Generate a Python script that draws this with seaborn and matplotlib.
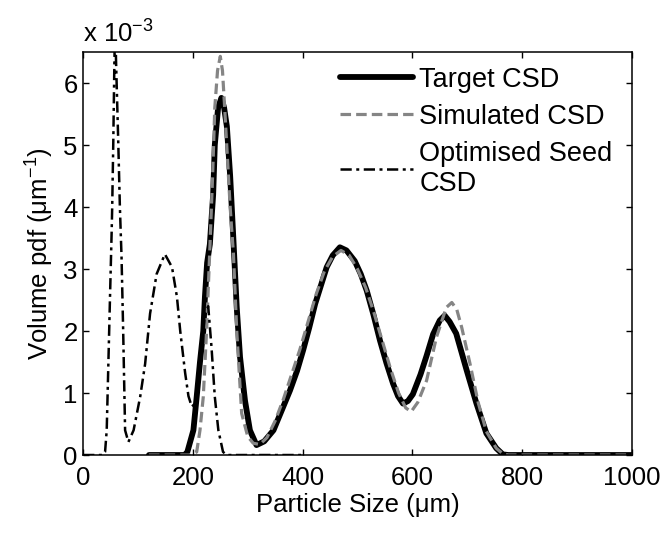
import matplotlib
matplotlib.use("Agg")
import matplotlib.pyplot as plt
import pandas as pd
import seaborn as sns

# Particle size grids (um) and volume pdf values (x 1e-3 per um)
target_size = [120, 185, 190, 201, 207, 213, 219, 222, 226, 231, 237, 240, 246, 252,
               257, 262, 268, 274, 280, 286, 295, 304, 316, 330, 347, 362, 377, 390,
               401, 412, 423, 434, 444, 455, 468, 480, 495, 506, 517, 529, 541, 553,
               565, 574, 583, 592, 601, 615, 626, 638, 650, 659, 668, 680, 690, 699,
               717, 735, 753, 765, 775, 1000]
target_pdf = [0, 0, 0.05, 0.4, 0.94, 1.5, 2.0, 2.55, 3.1, 3.4, 4.2, 5.0, 5.6, 5.76,
              5.6, 5.3, 4.5, 3.46, 2.38, 1.58, 0.88, 0.40, 0.16, 0.22, 0.40, 0.72, 1.04, 1.36,
              1.69, 2.05, 2.44, 2.75, 3.03, 3.22, 3.35, 3.30, 3.13, 2.92, 2.65, 2.27, 1.85, 1.48,
              1.15, 0.95, 0.83, 0.87, 0.98, 1.3, 1.6, 1.95, 2.17, 2.25, 2.15, 1.96, 1.65, 1.37,
              0.83, 0.35, 0.11, 0.01, 0, 0]

sim_size = [120, 195, 207, 213, 219, 225, 231, 236, 240, 245, 250, 254, 258, 263,
            268, 274, 280, 289, 300, 310, 322, 335, 350, 365, 380, 395, 410, 425,
            440, 455, 470, 485, 500, 515, 530, 545, 560, 575, 588, 598, 610, 626,
            644, 662, 672, 681, 690, 705, 720, 735, 753, 765, 775, 1000]
sim_pdf = [0, 0, 0.05, 0.4, 0.94, 2.0, 3.33, 4.5, 5.6, 6.2, 6.43, 6.2, 5.6, 4.8,
           4.0, 3.24, 2.0, 0.67, 0.3, 0.19, 0.17, 0.28, 0.55, 0.9, 1.3, 1.7, 2.15, 2.6,
           2.97, 3.2, 3.3, 3.22, 3.0, 2.7, 2.3, 1.85, 1.4, 1.0, 0.76, 0.70, 0.85, 1.2,
           1.9, 2.38, 2.46, 2.35, 2.06, 1.48, 0.85, 0.38, 0.11, 0.02, 0, 0]

seed_size = [0, 35, 40, 43, 46, 49, 52, 53, 55, 57, 58.5, 60, 64, 67, 70, 73, 76.5,
             82.5, 92, 104, 113, 122, 134, 149, 162, 171, 177, 186, 192, 198, 204,
             213, 222, 228, 234, 240, 246.5, 255, 262, 400]
seed_pdf = [0, 0, 0.05, 0.4, 1.47, 2.55, 3.6, 4.0, 5.06, 6.35, 7.0, 6.35, 5.06, 4.0, 3.2, 2.0, 0.4,
            0.21, 0.4, 0.94, 1.47, 2.28, 2.92, 3.24, 3.03, 2.55, 2.0, 1.32, 0.95, 0.78, 0.83,
            1.47, 2.28, 2.4, 1.74, 0.94, 0.4, 0.05, 0, 0]

series_names = ["Target CSD", "Simulated CSD", "Optimised Seed\nCSD"]
x_ticks = [0, 200, 400, 600, 800, 1000]
y_ticks = [0, 1, 2, 3, 4, 5, 6]

sns.set_style("ticks")
plt.rcParams["font.family"] = ["Liberation Sans", "DejaVu Sans"]
plt.rcParams["mathtext.fontset"] = "custom"
plt.rcParams["mathtext.rm"] = "Liberation Sans"
plt.rcParams["mathtext.it"] = "Liberation Sans:italic"
plt.rcParams["mathtext.bf"] = "Liberation Sans:bold"
for key in ["text.color", "axes.labelcolor", "xtick.color", "ytick.color", "axes.edgecolor"]:
    plt.rcParams[key] = "black"

FS = 18.5

target_df = pd.DataFrame({"size": target_size, "pdf": target_pdf})
sim_df = pd.DataFrame({"size": sim_size, "pdf": sim_pdf})
seed_df = pd.DataFrame({"size": seed_size, "pdf": seed_pdf})

fig = plt.figure(figsize=(6.65, 5.33), dpi=100)
ax = fig.add_axes([0.125, 0.1463, 0.825, 0.7561])

sim_dash = [3.3, 1.6]
seed_dash = [4.5, 1.8, 1.2, 1.8]

sns.lineplot(data=target_df, x="size", y="pdf", ax=ax, sort=False, estimator=None,
             color="black", linewidth=4.2, label=series_names[0])
sns.lineplot(data=sim_df, x="size", y="pdf", ax=ax, sort=False, estimator=None,
             color="#858585", linewidth=2.3, label=series_names[1])
sns.lineplot(data=seed_df, x="size", y="pdf", ax=ax, sort=False, estimator=None,
             color="black", linewidth=1.8, label=series_names[2])
ax.lines[1].set_dashes(sim_dash)
ax.lines[2].set_dashes(seed_dash)

ax.set_xlim(0, 1000)
ax.set_ylim(0, 6.5)
ax.set_xticks(x_ticks)
ax.set_yticks(y_ticks)
ax.tick_params(axis="both", direction="in", length=4, width=1, labelsize=FS,
               top=True, right=True, colors="black")
ax.tick_params(axis="x", pad=8)
ax.tick_params(axis="y", pad=4)
for sp in ax.spines.values():
    sp.set_linewidth(1.1)
    sp.set_color("black")
    sp.set_visible(True)

ax.set_xlabel("Particle Size (\u03bcm)", fontsize=FS, labelpad=2, color="black")
ax.set_ylabel("Volume pdf (\u03bcm$^{-1}$)", fontsize=FS, labelpad=5, color="black")
ax.text(0.0, 1.01, "x 10$^{-3}$", transform=ax.transAxes, fontsize=FS,
        ha="left", va="bottom", color="black")

handles, labels = ax.get_legend_handles_labels()
handles[1].set_dashes(sim_dash)
handles[2].set_dashes(seed_dash)
leg = ax.legend(handles, labels, loc="upper right", frameon=False, fontsize=19.5,
                handlelength=2.7, handletextpad=0.25, labelspacing=0.4,
                borderaxespad=0.1, borderpad=0.3, bbox_to_anchor=(0.985, 0.99))
for t in leg.get_texts():
    t.set_color("black")

fig.savefig("out.png", dpi=100)
